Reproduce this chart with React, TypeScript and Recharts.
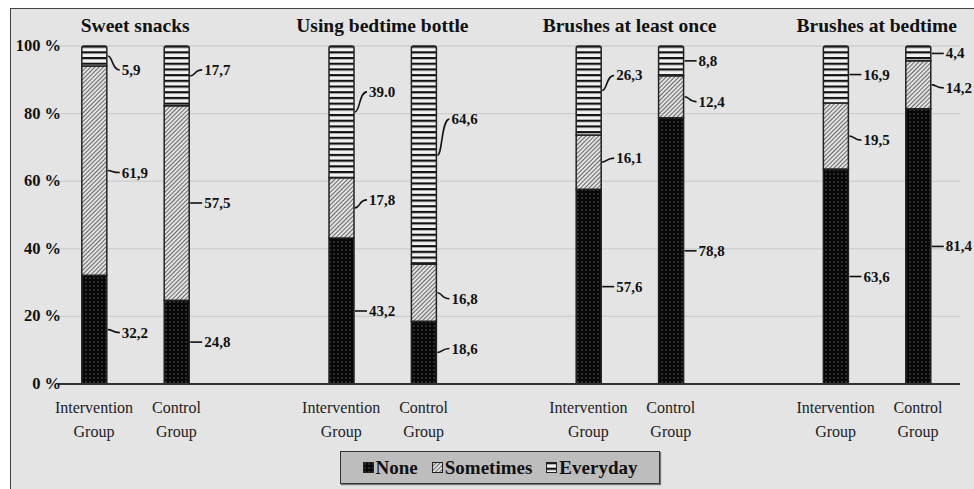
import React from "react";
import { Bar, BarChart, CartesianGrid, LabelList, ReferenceLine, XAxis, YAxis } from "recharts";

// chart content
const groupTitles = ["Sweet  snacks", "Using bedtime bottle", "Brushes at least once", "Brushes at bedtime"];
const groupCenters = [0.5, 3.5, 6.5, 9.5];
const armNames = [["Intervention", "Group"], ["Control", "Group"]];
// slot index of each bar on the x axis (an empty slot separates the groups)
const barSlots = [0, 1, 3, 4, 6, 7, 9, 10];
const noneValues = [32.2, 24.8, 43.2, 18.6, 57.6, 78.8, 63.6, 81.4];
const sometimesValues = [61.9, 57.5, 17.8, 16.8, 16.1, 12.4, 19.5, 14.2];
const everydayValues = [5.9, 17.7, 39.0, 64.6, 26.3, 8.8, 16.9, 4.4];
const noneText = ["32,2", "24,8", "43,2", "18,6", "57,6", "78,8", "63,6", "81,4"];
const sometimesText = ["61,9", "57,5", "17,8", "16,8", "16,1", "12,4", "19,5", "14,2"];
const everydayText = ["5,9", "17,7", "39.0", "64,6", "26,3", "8,8", "16,9", "4,4"];
const yTicks = [0, 20, 40, 60, 80, 100];
const legendNames = ["None", "Sometimes", "Everyday"];

// label nudges (px) where the original labels were dragged off the segment middle
const everydayNudge = [14, -6, -20, -36, -15, 0, 0, 0];
const sometimesNudge = [2, 0, -8, 6, -4, 5, 4, 3];
const noneNudge = [3, 0, 0, -4, 0, 0, 0, 0];

const rows = barSlots.map((slot, i) => ({
  slot,
  none: noneValues[i],
  sometimes: sometimesValues[i],
  everyday: everydayValues[i],
}));

const serif = "'Liberation Serif', 'Times New Roman', serif";
const xDomain = [-0.437, 10.51];

const makeLabel = (texts: string[], nudges: number[]) => (props: any) => {
  const { x, y, width, height, index } = props;
  const bx = Number(x) + Number(width) + 1;
  const my = Number(y) + Number(height) / 2;
  const ly = my + nudges[index];
  return (
    <g>
      <path
        d={`M${bx},${my} C${bx + 5},${my} ${bx + 4},${ly} ${bx + 12},${ly}`}
        stroke="#111"
        strokeWidth={1.6}
        fill="none"
      />
      <text x={bx + 14} y={ly + 5} fontFamily={serif} fontWeight="bold" fontSize={15} fill="#111">
        {texts[index]}
      </text>
    </g>
  );
};

const ArmTick = (props: any) => {
  const { x, index } = props;
  const lines = armNames[index % 2];
  return (
    <text x={x} y={413} textAnchor="middle" fontFamily={serif} fontSize={16} fill="#222">
      <tspan x={x}>{lines[0]}</tspan>
      <tspan x={x} dy={24}>{lines[1]}</tspan>
    </text>
  );
};

const titleLabel = (title: string) => (props: any) => {
  const x = props.viewBox ? props.viewBox.x : 0;
  return (
    <text x={x} y={32} textAnchor="middle" fontFamily={serif} fontWeight="bold" fontSize={19.5} fill="#111">
      {title}
    </text>
  );
};

const PercentTick = (props: any) => {
  const { y, payload } = props;
  return (
    <text x={61} y={Number(y) + 5} textAnchor="end" fontFamily={serif} fontWeight="bold" fontSize={16.5} fill="#111">
      {payload.value} %
    </text>
  );
};

const fills = ["url(#patNone)", "url(#patSometimes)", "url(#patEveryday)"];

const Patterns = () => (
  <svg width={0} height={0} style={{ position: "absolute" }}>
    <defs>
      <pattern id="patNone" width={4} height={4} patternUnits="userSpaceOnUse">
        <rect width={4} height={4} fill="#080808" />
        <circle cx={2} cy={2} r={0.7} fill="#6a6a6a" />
      </pattern>
      <pattern id="patSometimes" width={3} height={3} patternUnits="userSpaceOnUse" patternTransform="rotate(45)">
        <rect width={3} height={3} fill="#e2e2e2" />
        <line x1={0.5} y1={0} x2={0.5} y2={3} stroke="#5a5a5a" strokeWidth={0.9} />
      </pattern>
      <pattern id="patEveryday" width={6} height={5.7} patternUnits="userSpaceOnUse">
        <rect width={6} height={5.7} fill="#f2f2f2" />
        <rect width={6} height={2.2} fill="#111" />
      </pattern>
    </defs>
  </svg>
);

export default function App() {
  return (
    <div style={{ position: "absolute", left: 0, top: 0, width: 974, height: 489, background: "#fff", overflow: "hidden" }}>
      <Patterns />
      <div
        style={{
          position: "absolute",
          left: 10,
          top: 8,
          width: 980,
          height: 500,
          background: "#e4e4e4",
          borderLeft: "1.5px solid #444",
          borderTop: "1.5px solid #444",
        }}
      />
      <div style={{ position: "absolute", left: 0, top: 0 }}>
        <BarChart width={974} height={489} data={rows} margin={{ top: 46, right: 14, bottom: 45, left: 0 }}>
          <CartesianGrid horizontal vertical={false} stroke="#cdcdcd" strokeWidth={1.2} />
          <XAxis
            dataKey="slot"
            type="number"
            domain={xDomain}
            allowDataOverflow
            ticks={barSlots}
            interval={0}
            height={60}
            tick={<ArmTick />}
            tickLine={false}
            axisLine={{ stroke: "#333", strokeWidth: 2 }}
          />
          <YAxis
            type="number"
            domain={[0, 100]}
            ticks={yTicks}
            width={58}
            tick={<PercentTick />}
            tickLine={false}
            axisLine={false}
          />
          {groupCenters.map((c, i) => (
            <ReferenceLine key={c} x={c} stroke="none" ifOverflow="visible" label={titleLabel(groupTitles[i])} />
          ))}
          <Bar dataKey="none" stackId="s" barSize={25} fill={fills[0]} stroke="#222" strokeWidth={1.5} isAnimationActive={false}>
            <LabelList dataKey="none" content={makeLabel(noneText, noneNudge)} />
          </Bar>
          <Bar dataKey="sometimes" stackId="s" barSize={25} fill={fills[1]} stroke="#222" strokeWidth={1.5} isAnimationActive={false}>
            <LabelList dataKey="sometimes" content={makeLabel(sometimesText, sometimesNudge)} />
          </Bar>
          <Bar dataKey="everyday" stackId="s" barSize={25} fill={fills[2]} stroke="#222" strokeWidth={1.5} radius={[2, 2, 0, 0]} isAnimationActive={false}>
            <LabelList dataKey="everyday" content={makeLabel(everydayText, everydayNudge)} />
          </Bar>
        </BarChart>
      </div>
      <div
        style={{
          position: "absolute",
          left: 340,
          top: 451,
          width: 318,
          height: 31,
          background: "#bdbdbd",
          border: "1.5px solid #333",
          boxShadow: "1px 1px 1px #777",
          display: "flex",
          alignItems: "center",
          justifyContent: "center",
          gap: 14,
          fontFamily: serif,
          fontWeight: "bold",
          fontSize: 19,
          color: "#111",
        }}
      >
        {legendNames.map((name, i) => (
          <span key={name} style={{ display: "flex", alignItems: "center" }}>
            <svg width={11} height={11} style={{ marginRight: 2 }}>
              <rect x={0.5} y={0.5} width={10} height={10} fill={fills[i]} stroke="#222" strokeWidth={1} />
            </svg>
            {name}
          </span>
        ))}
      </div>
    </div>
  );
}
